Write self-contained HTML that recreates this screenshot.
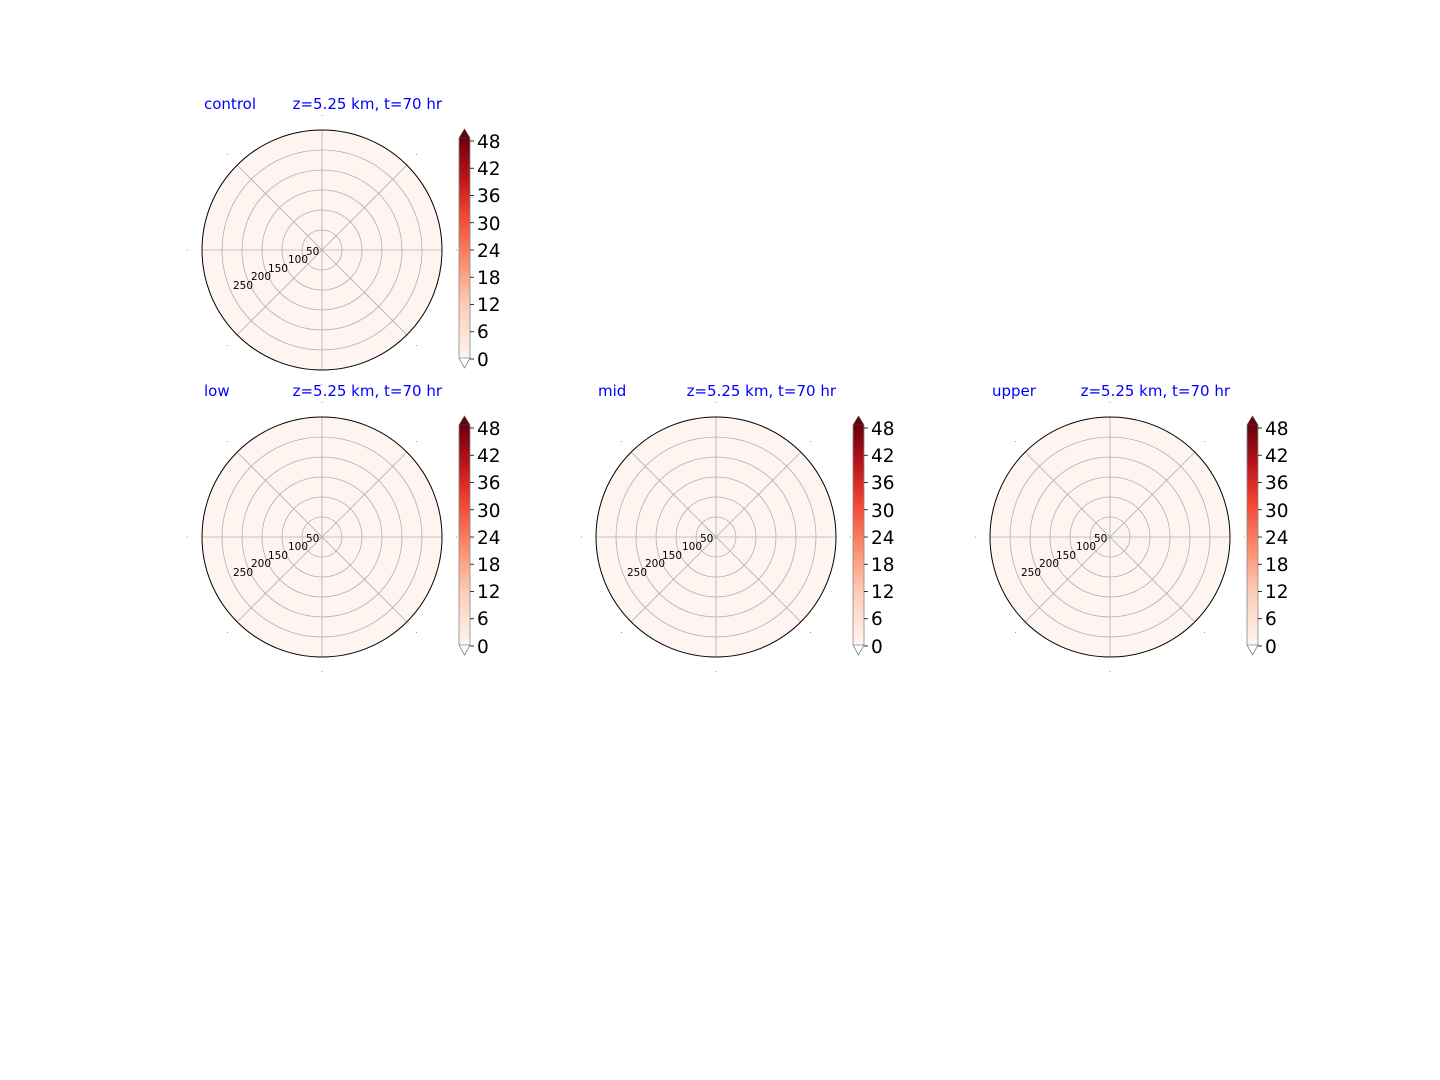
<!DOCTYPE html>
<html><head><meta charset="utf-8"><style>
html,body{margin:0;padding:0;background:#fff;}
svg{display:block;font-family:"DejaVu Sans","Liberation Sans",sans-serif;}
.t{fill:#0000ff;font-size:15px;}
.r{fill:none;stroke:#b0b0b0;stroke-width:0.8;}
.l{font-size:10.5px;fill:#000;}
.c{font-size:18.5px;fill:#000;}
</style></head><body>
<svg width="1440" height="1080" viewBox="0 0 1440 1080">
<defs>
<linearGradient id="g" x1="0" y1="1" x2="0" y2="0">
<stop offset="0" stop-color="#fff5f0"/>
<stop offset="0.25" stop-color="#fdcab5"/>
<stop offset="0.45" stop-color="#fc8a6a"/>
<stop offset="0.65" stop-color="#f14432"/>
<stop offset="0.82" stop-color="#bc141a"/>
<stop offset="1" stop-color="#67000d"/>
</linearGradient>
<g id="p">
<circle cx="0" cy="0" r="120" fill="#fff5f0"/>
<circle class="r" r="20"/><circle class="r" r="40"/><circle class="r" r="60"/><circle class="r" r="80"/><circle class="r" r="100"/>
<line class="r" x1="-120" y1="0" x2="120" y2="0"/>
<line class="r" x1="0" y1="-120" x2="0" y2="120"/>
<line class="r" x1="-84.85" y1="-84.85" x2="84.85" y2="84.85"/>
<line class="r" x1="-84.85" y1="84.85" x2="84.85" y2="-84.85"/>
<circle cx="0" cy="0" r="120" fill="none" stroke="#000" stroke-width="1"/>
<g fill="#999"><rect x="-0.5" y="-135" width="1" height="1"/><rect x="-0.5" y="134" width="1" height="1"/><rect x="-135" y="-0.5" width="1" height="1"/><rect x="134" y="-0.5" width="1" height="1"/>
<rect x="-95" y="-96" width="1" height="1"/><rect x="94" y="-96" width="1" height="1"/><rect x="-95" y="95" width="1" height="1"/><rect x="94" y="95" width="1" height="1"/></g>
<rect x="137" y="-112" width="11" height="220" fill="url(#g)"/>
<polygon points="137,-112 142.5,-121 148,-112" fill="#67000d" stroke="#555" stroke-width="0.6"/>
<polygon points="137,108 142.5,118 148,108" fill="#fff" stroke="#555" stroke-width="0.6"/>
<line x1="137" y1="-112" x2="137" y2="108" stroke="#888" stroke-width="0.8"/>
<line x1="148" y1="-112" x2="148" y2="108" stroke="#888" stroke-width="0.8"/>
<g stroke="#000" stroke-width="0.8">
<line x1="148" x2="152" y1="-109" y2="-109"/><line x1="148" x2="152" y1="-81.75" y2="-81.75"/><line x1="148" x2="152" y1="-54.5" y2="-54.5"/><line x1="148" x2="152" y1="-27.25" y2="-27.25"/><line x1="148" x2="152" y1="0" y2="0"/><line x1="148" x2="152" y1="27.25" y2="27.25"/><line x1="148" x2="152" y1="54.5" y2="54.5"/><line x1="148" x2="152" y1="81.75" y2="81.75"/><line x1="148" x2="152" y1="109" y2="109"/>
</g>
</g>
</defs>

<use href="#p" transform="translate(322,250)"/>
<use href="#p" transform="translate(322,537)"/>
<use href="#p" transform="translate(716,537)"/>
<use href="#p" transform="translate(1110,537)"/>

<g transform="translate(322,250)">
<text class="t" x="-118" y="-141">control</text>
<text class="t" x="120" y="-141" text-anchor="end">z=5.25 km, t=70 hr</text>
<text class="l" x="-16" y="5">50</text><text class="l" x="-34" y="13">100</text><text class="l" x="-54" y="22">150</text><text class="l" x="-71" y="30">200</text><text class="l" x="-89" y="39">250</text>
<text class="c" x="155" y="-102">48</text><text class="c" x="155" y="-75">42</text><text class="c" x="155" y="-48">36</text><text class="c" x="155" y="-20">30</text><text class="c" x="155" y="7">24</text><text class="c" x="155" y="34">18</text><text class="c" x="155" y="61">12</text><text class="c" x="155" y="88">6</text><text class="c" x="155" y="116">0</text>
</g>
<g transform="translate(322,537)">
<text class="t" x="-118" y="-141">low</text>
<text class="t" x="120" y="-141" text-anchor="end">z=5.25 km, t=70 hr</text>
<text class="l" x="-16" y="5">50</text><text class="l" x="-34" y="13">100</text><text class="l" x="-54" y="22">150</text><text class="l" x="-71" y="30">200</text><text class="l" x="-89" y="39">250</text>
<text class="c" x="155" y="-102">48</text><text class="c" x="155" y="-75">42</text><text class="c" x="155" y="-48">36</text><text class="c" x="155" y="-20">30</text><text class="c" x="155" y="7">24</text><text class="c" x="155" y="34">18</text><text class="c" x="155" y="61">12</text><text class="c" x="155" y="88">6</text><text class="c" x="155" y="116">0</text>
</g>
<g transform="translate(716,537)">
<text class="t" x="-118" y="-141">mid</text>
<text class="t" x="120" y="-141" text-anchor="end">z=5.25 km, t=70 hr</text>
<text class="l" x="-16" y="5">50</text><text class="l" x="-34" y="13">100</text><text class="l" x="-54" y="22">150</text><text class="l" x="-71" y="30">200</text><text class="l" x="-89" y="39">250</text>
<text class="c" x="155" y="-102">48</text><text class="c" x="155" y="-75">42</text><text class="c" x="155" y="-48">36</text><text class="c" x="155" y="-20">30</text><text class="c" x="155" y="7">24</text><text class="c" x="155" y="34">18</text><text class="c" x="155" y="61">12</text><text class="c" x="155" y="88">6</text><text class="c" x="155" y="116">0</text>
</g>
<g transform="translate(1110,537)">
<text class="t" x="-118" y="-141">upper</text>
<text class="t" x="120" y="-141" text-anchor="end">z=5.25 km, t=70 hr</text>
<text class="l" x="-16" y="5">50</text><text class="l" x="-34" y="13">100</text><text class="l" x="-54" y="22">150</text><text class="l" x="-71" y="30">200</text><text class="l" x="-89" y="39">250</text>
<text class="c" x="155" y="-102">48</text><text class="c" x="155" y="-75">42</text><text class="c" x="155" y="-48">36</text><text class="c" x="155" y="-20">30</text><text class="c" x="155" y="7">24</text><text class="c" x="155" y="34">18</text><text class="c" x="155" y="61">12</text><text class="c" x="155" y="88">6</text><text class="c" x="155" y="116">0</text>
</g>
</svg>
</body></html>
